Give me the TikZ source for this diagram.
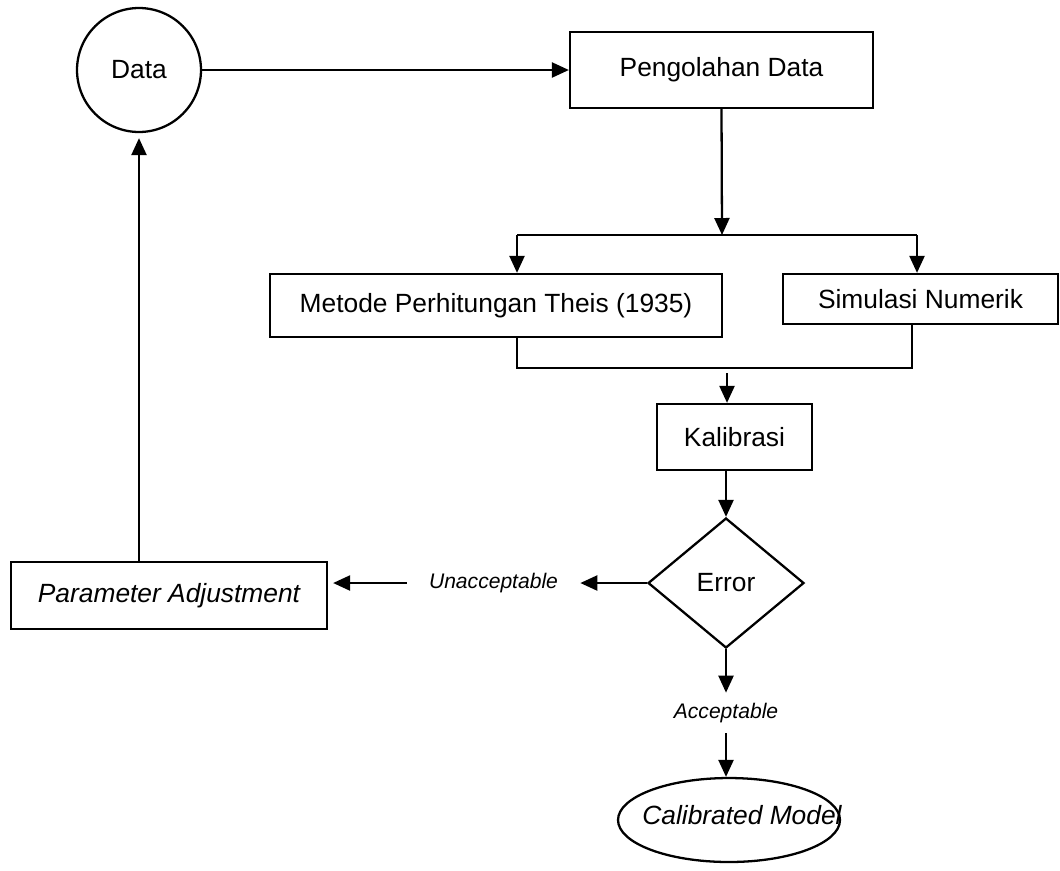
\documentclass[tikz,border=0pt]{standalone}
\usepackage{fontspec}
\setmainfont{Liberation Sans}
\usetikzlibrary{positioning,arrows.meta,shapes.geometric}

\begin{document}
\begin{tikzpicture}[
x=0.02cm, y=-0.02cm,
box/.style={draw, line width=1.3pt, inner sep=0pt, align=center, font=\fontsize{15}{18}\selectfont},
note/.style={inner sep=0pt, font=\fontsize{12}{14}\selectfont\itshape},
arrow/.style={-{Triangle[length=3.4mm, width=3mm]}, line width=1.3pt},
link/.style={line width=0.6pt}
]
\useasboundingbox (0,0) rectangle (1060,870);

\node[box, circle, minimum size=2.48cm] (data) at (139,70) {Data};
\node[box, minimum width=6.06cm, minimum height=1.52cm] (olah) at (721.5,70) {Pengolahan Data};
\node[box, minimum width=9.04cm, minimum height=1.26cm] (theis) at (496,305.5) {Metode Perhitungan Theis (1935)};
\node[box, minimum width=5.5cm, minimum height=1cm] (simul) at (920.5,299) {Simulasi Numerik};
\node[box, minimum width=3.1cm, minimum height=1.32cm] (kalib) at (734.5,437) {Kalibrasi};
\node[box, diamond, minimum width=3.12cm, minimum height=2.6cm] (err) at (726,583) {Error};
\node[box, minimum width=6.32cm, minimum height=1.34cm, font=\fontsize{15}{18}\selectfont\itshape] (adjust) at (169,595.5) {Parameter Adjustment};
\node[note, minimum width=3.46cm] (unacc) at (493.5,583) {Unacceptable};
\node[note, minimum height=0.8cm] (acc) at (726,713) {Acceptable};
\node[box, ellipse, minimum width=4.44cm, minimum height=1.68cm,
  label={[xshift=0.26cm, yshift=0.1cm, font=\fontsize{15}{18}\selectfont\itshape]center:Calibrated Model}] (model) at (729,820) {};

% cabang ke dua metode
\coordinate (split) at (722,235);
\coordinate (sl) at (517,235);
\coordinate (sr) at (917,235);
\coordinate (ml) at (517,368);
\coordinate (mr) at (912,368);
\coordinate (merge) at (727,373);

\draw[arrow] (data) -- (olah);
\draw[arrow] (olah.south) -- (split);
\draw[link] (sl) -- (sr);
\draw[arrow] (sl) -- (sl |- theis.north);
\draw[arrow] (sr) -- (sr |- simul.north);
\draw[link] (ml |- theis.south) -- (ml) -- (mr) -- (mr |- simul.south);
\draw[arrow] (merge) -- (merge |- kalib.north);
\draw[arrow] (err.north |- kalib.south) -- (err.north);
\draw[arrow] (err.west) -- (unacc.east);
\draw[arrow, shorten >=1mm] (unacc.west) -- (unacc.west -| adjust.east);
\draw[arrow, shorten >=1mm] (adjust.north -| data.south) -- (data.south);
\draw[arrow] (err.south) -- (acc.north);
\draw[arrow] (acc.south) -- (acc.south |- model.north);
\end{tikzpicture}
\end{document}
